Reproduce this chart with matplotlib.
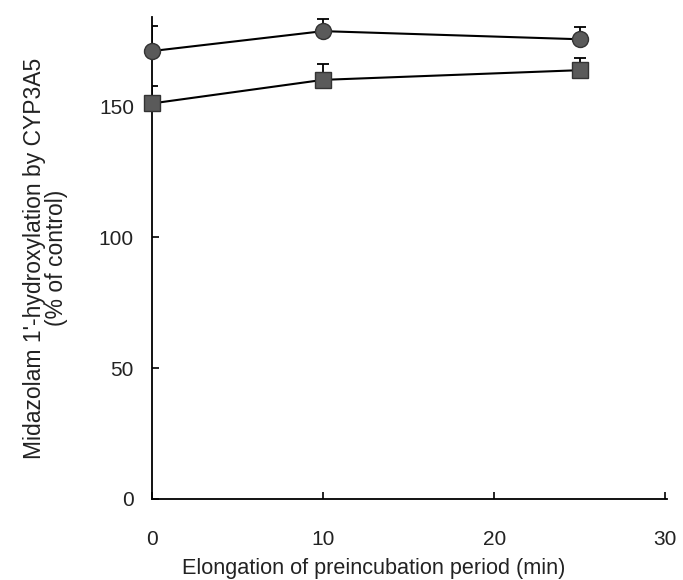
import matplotlib
matplotlib.use("Agg")
import matplotlib.pyplot as plt
import numpy as np

plt.rcParams['font.family'] = ['Liberation Sans', 'DejaVu Sans']

time_min = [0, 10, 25]
circle_vals = [171, 178.6, 175.5]
circle_err = [9.5, 4.5, 4.5]
square_vals = [151, 160, 163.7]
square_err = [6.5, 6, 4.5]
xticks = [0, 10, 20, 30]
yticks = [0, 50, 100, 150]

fig = plt.figure(figsize=(6.83, 5.8), dpi=100)
ax = fig.add_axes([0.2225, 0.1397, 0.7541, 0.831])

mcol = '#5a5a5a'
for vals, err, mk in [(circle_vals, circle_err, 'o'), (square_vals, square_err, 's')]:
    ax.errorbar(time_min, vals, yerr=[np.zeros(len(err)), err], fmt='-', color='black',
                lw=1.5, elinewidth=1.3, capsize=4, capthick=1.3, zorder=2)
    ax.plot(time_min, vals, linestyle='none', marker=mk, markersize=11.5,
            markerfacecolor=mcol, markeredgecolor='#333333', markeredgewidth=1.0, zorder=3,
            clip_on=False)

ax.set_xlim(0, 30.1)
ax.set_ylim(0, 184)
ax.set_xticks(xticks)
ax.set_yticks(yticks)
ax.spines['top'].set_visible(False)
ax.spines['right'].set_visible(False)
ax.spines['left'].set_linewidth(1.3)
ax.spines['bottom'].set_linewidth(1.3)
ax.tick_params(axis='x', direction='in', length=5, width=1.2, pad=22, labelsize=15, labelcolor='#222222')
ax.tick_params(axis='y', direction='in', length=5, width=1.2, pad=13, labelsize=15, labelcolor='#222222')

xl = ax.set_xlabel('Elongation of preincubation period (min)', fontsize=15.6, color='#222222', labelpad=7)
xl.set_x(0.43)
ax.set_ylabel("Midazolam 1'-hydroxylation by CYP3A5\n(% of control)", fontsize=16.5,
              color='#222222', labelpad=22, linespacing=0.95)

fig.savefig('out.png', dpi=100)
